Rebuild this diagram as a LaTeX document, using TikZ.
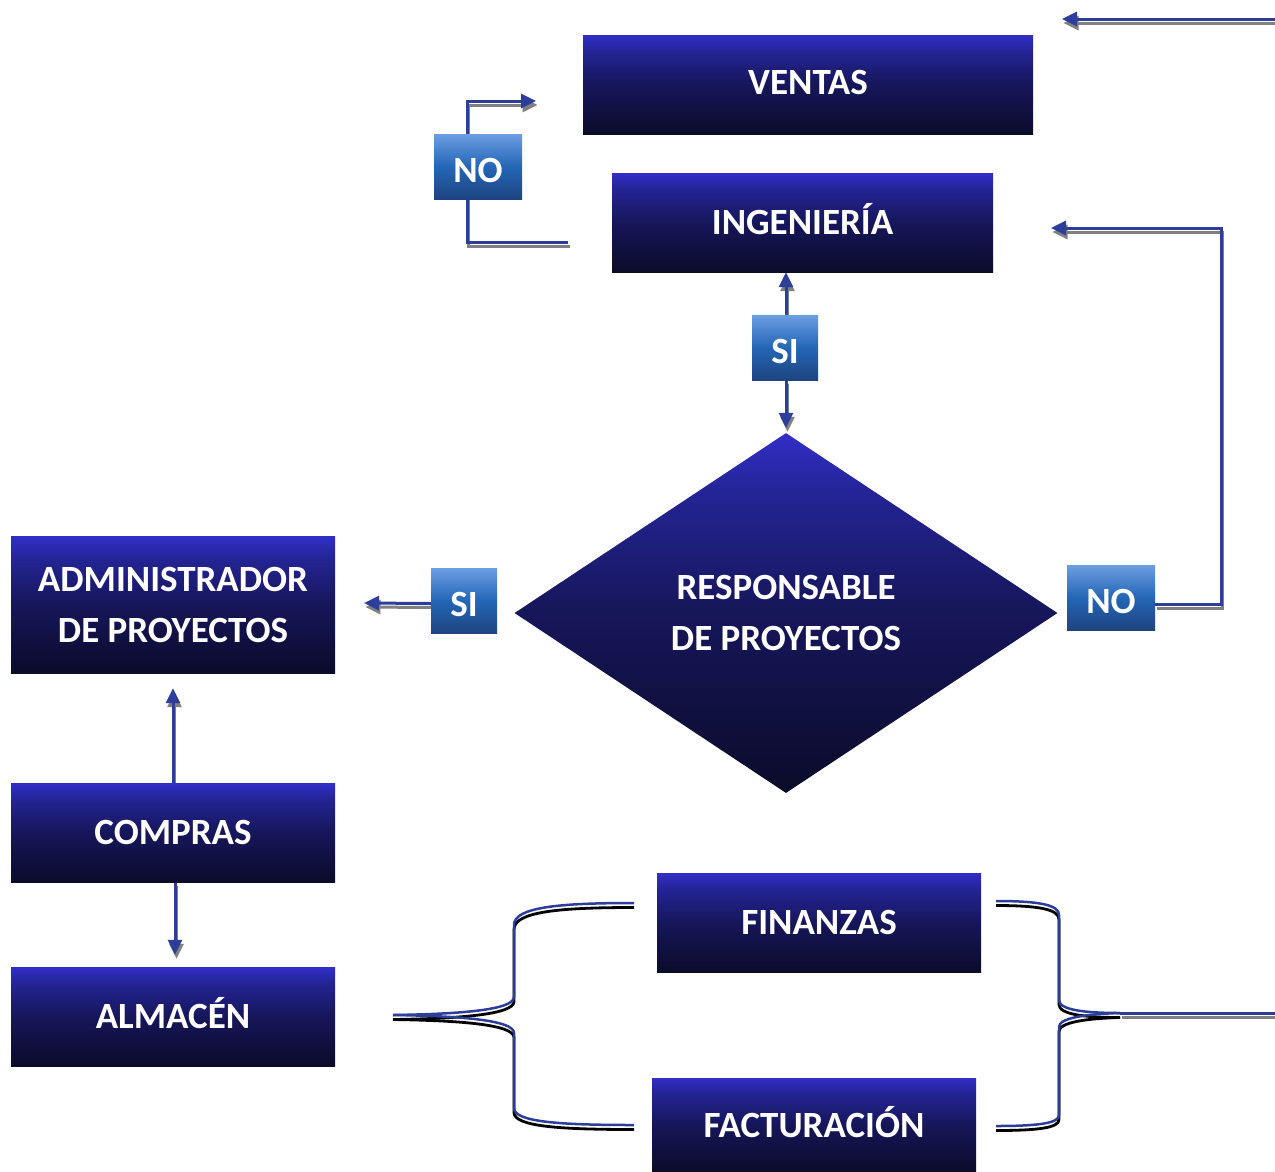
\documentclass[tikz,border=0pt]{standalone}
\usepackage{fontspec}
\setmainfont{Carlito}
\usetikzlibrary{shapes.geometric,arrows.meta,calc}
\definecolor{navtop}{RGB}{50,46,200}
\definecolor{navup}{RGB}{36,36,150}
\definecolor{navmid}{RGB}{22,22,90}
\definecolor{navbot}{RGB}{11,11,42}
\definecolor{lbtop}{RGB}{108,158,226}
\definecolor{lbmid}{RGB}{36,102,182}
\definecolor{lbbot}{RGB}{30,68,128}
\definecolor{lineblue}{RGB}{44,62,154}
\definecolor{shadowgray}{RGB}{128,128,128}
\pgfdeclareverticalshading{boxshade}{100bp}{color(0bp)=(navbot); color(25bp)=(navbot); color(50bp)=(navmid); color(67bp)=(navup); color(75bp)=(navtop); color(100bp)=(navtop)}
\pgfdeclareverticalshading{labelshade}{100bp}{color(0bp)=(lbbot); color(25bp)=(lbbot); color(50bp)=(lbmid); color(75bp)=(lbtop); color(100bp)=(lbtop)}
\pgfdeclarelayer{bg}
\pgfsetlayers{bg,main}
\tikzset{
  boxtext/.style={text=white, font=\fontsize{37}{51}\selectfont\bfseries, align=center},
  box/.style={rectangle, inner sep=0pt, shading=boxshade, boxtext},
  lab/.style={rectangle, inner sep=0pt, minimum height=65pt, shading=labelshade, boxtext},
  conn/.style={draw=lineblue, line width=3pt,
    preaction={draw=shadowgray, line width=3pt, transform canvas={shift={(1.5pt,-4pt)}}}},
  arr/.style={draw=lineblue, line width=3pt, -{Triangle[length=15pt,width=14pt]},
    preaction={draw=shadowgray, line width=3pt, -{Triangle[length=15pt,width=14pt]}, transform canvas={shift={(1.5pt,-4pt)}}}},
  brace/.style={draw=lineblue, line width=2.5pt,
    preaction={draw=black, line width=2.8pt, transform canvas={shift={(0pt,-4.5pt)}}}}
}
\newcommand{\lowtxt}[1]{\raisebox{-4pt}[\height][\depth]{#1}}
\newcommand{\uptxt}[2]{\raisebox{#1}[\height][\depth]{#2}}
\begin{document}
\begin{tikzpicture}[x=1pt,y=-1pt]
\useasboundingbox (0,0) rectangle (1275,1171);
% boxes
\node[box, minimum width=450pt, minimum height=99pt] (ventas) at (808,84.5) {\uptxt{2pt}{VENTAS}};
\node[box, minimum width=381pt, minimum height=99pt] (ing) at (802.5,222.5) {\uptxt{3pt}{INGENIERÍA}};
\node[lab, minimum width=88pt] (noA) at (478,166.5) {\lowtxt{NO}};
\node[lab, minimum width=66pt] (siA) at (785,347.5) {\lowtxt{SI}};
\node[diamond, inner sep=0pt, shape aspect=1.508, minimum width=543pt, minimum height=360pt, shading=boxshade, boxtext] (resp) at (786,613) {RESPONSABLE\\DE PROYECTOS};
\node[lab, minimum width=88pt] (noB) at (1111,597.5) {\lowtxt{NO}};
\node[lab, minimum width=66pt] (siB) at (464,600.5) {\lowtxt{SI}};
\node[box, minimum width=324pt, minimum height=137pt] (admin) at (173,604.5) {ADMINISTRADOR\\DE PROYECTOS};
\node[box, minimum width=324pt, minimum height=99pt] (compras) at (173,832.5) {COMPRAS};
\node[box, minimum width=324pt, minimum height=99pt] (almacen) at (173,1016.5) {\uptxt{3pt}{ALMACÉN}};
\node[box, minimum width=324pt, minimum height=99pt] (fin) at (819,922.5) {FINANZAS};
\node[box, minimum width=324pt, minimum height=93pt] (fact) at (814,1124.5) {\uptxt{2pt}{FACTURACIÓN}};
% free ends
\coordinate (noAin) at (568,242);
\coordinate (noAout) at (536,101);
\coordinate (topin) at (1275,19);
\coordinate (topout) at (1062,19);
\coordinate (ingback) at (1051,228);
\coordinate (siBout) at (364,603);
\coordinate (ltip) at (393,1015);
\coordinate (rtip) at (1120,1013);
\coordinate (rend) at (1275,1013);
\begin{pgfonlayer}{bg}
\draw[arr] (noAin) -- (467,242) -- (467,101) -- (noAout);
\draw[arr] (topin) -- (topout);
\draw[arr] ([xshift=1pt]siA.north) -- ([xshift=1pt]siA.north |- ing.south);
\draw[arr] ([xshift=1pt]siA.south) -- ([xshift=1pt,yshift=5pt]siA.south |- resp.north);
\draw[arr] ([yshift=-7pt]noB.east) -- (1221,604.5) -- (1221,228) -- (ingback);
\draw[arr] ([yshift=-3pt]siB.west) -- (siBout);
\draw[arr] (compras.north) -- ([yshift=-15pt]admin.south);
\draw[arr] ([xshift=2pt]compras.south) -- ([xshift=2pt,yshift=12pt]almacen.north);
% left brace
\draw[brace] (634,903) .. controls (560,903) and (514,907) .. (514,925) -- (514,997) .. controls (514,1010) and (460,1014) .. (ltip);
\draw[brace] (ltip) .. controls (460,1016) and (514,1020) .. (514,1033) -- (514,1108) .. controls (514,1122) and (560,1125) .. (634,1125);
% right brace
\draw[conn] (rtip) -- (rend);
\draw[brace] (996,901) .. controls (1040,901) and (1059,905) .. (1059,915) -- (1059,1000) .. controls (1059,1010) and (1085,1013) .. (rtip);
\draw[brace] (rtip) .. controls (1085,1014) and (1059,1018) .. (1059,1027) -- (1059,1115) .. controls (1059,1123) and (1040,1126) .. (996,1126);
\end{pgfonlayer}
\end{tikzpicture}
\end{document}
